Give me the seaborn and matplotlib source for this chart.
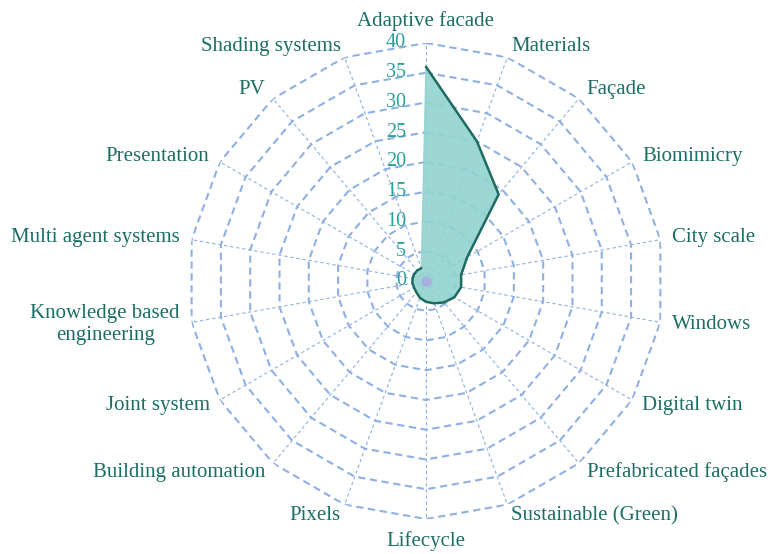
import matplotlib
matplotlib.use("Agg")
import matplotlib.pyplot as plt
from matplotlib.transforms import offset_copy
import numpy as np
import pandas as pd
import seaborn as sns

# categories clockwise from the top
categories = [
    "Adaptive facade", "Materials", "Façade", "Biomimicry", "City scale",
    "Windows", "Digital twin", "Prefabricated façades", "Sustainable (Green)",
    "Lifecycle", "Pixels", "Building automation", "Joint system",
    "Knowledge based\nengineering", "Multi agent systems", "Presentation",
    "PV", "Shading systems",
]
counts = [36, 25, 19, 8, 6, 6, 5.5, 4.7, 4, 3.5, 3, 2.5, 2.3, 2.3, 2.3, 2.3, 2.3, 2.3]
r_ticks = [0, 5, 10, 15, 20, 25, 30, 35, 40]

LABEL_C = "#1c6e67"
TICK_C = "#2aa198"
GRID_C = "#8eb0e2"
FILL_C = "#93d3cf"
EDGE_C = "#1f6b62"

sns.set_theme(style="white")
plt.rcParams["font.family"] = ["Liberation Serif", "DejaVu Serif"]

n = len(categories)
angles = np.arange(n) * 2 * np.pi / n
df = pd.DataFrame({"angle": np.append(angles, angles[0]),
                   "count": np.append(counts, counts[0])})

fig = plt.figure(figsize=(7.71, 5.54), dpi=100)
ax = fig.add_axes([0.2438, 0.0632, 0.6174, 0.8592], projection="polar")
ax.set_theta_zero_location("N")
ax.set_theta_direction(-1)
ax.set_ylim(0, max(r_ticks))
ax.grid(False)
ax.spines["polar"].set_visible(False)
ax.set_xticks([])
ax.set_yticks([])
ax.set_facecolor("none")

# polygon rings and spokes
ring_a = np.append(angles, angles[0])
for r in r_ticks[1:]:
    ax.plot(ring_a, [r] * len(ring_a), color=GRID_C, lw=1.5,
            dashes=(3.5, 2.2), zorder=1)
for a in angles:
    ax.plot([a, a], [0, max(r_ticks)], color=GRID_C, lw=0.8,
            dashes=(3, 2.5), zorder=1)

ax.fill(df["angle"], df["count"], color=FILL_C, alpha=0.9, zorder=2)
sns.lineplot(data=df, x="angle", y="count", sort=False, ax=ax,
             color=EDGE_C, lw=1.8, zorder=3)
ax.scatter([0], [0], s=45, color="#a5b0e0", zorder=4)
ax.set_xlabel("")
ax.set_ylabel("")

# radial tick labels left of the top spoke
tr = offset_copy(ax.transData, fig=fig, x=-20, y=0, units="dots")
for r in r_ticks:
    ax.text(0, r, str(r), transform=tr, ha="right", va="center",
            fontsize=14.5, color=TICK_C, zorder=5)

# category labels
for a, lab in zip(angles, categories):
    deg = np.degrees(a)
    if deg < 1:
        ha, va = "center", "bottom"
    elif abs(deg - 180) < 1:
        ha, va = "center", "top"
    elif deg < 180:
        ha, va = "left", "center"
    else:
        ha, va = "right", "center"
    ax.text(a, 42, lab, ha=ha, va=va, fontsize=15, color=LABEL_C,
            linespacing=1.2, multialignment="center")

fig.savefig("out.png", dpi=100)
